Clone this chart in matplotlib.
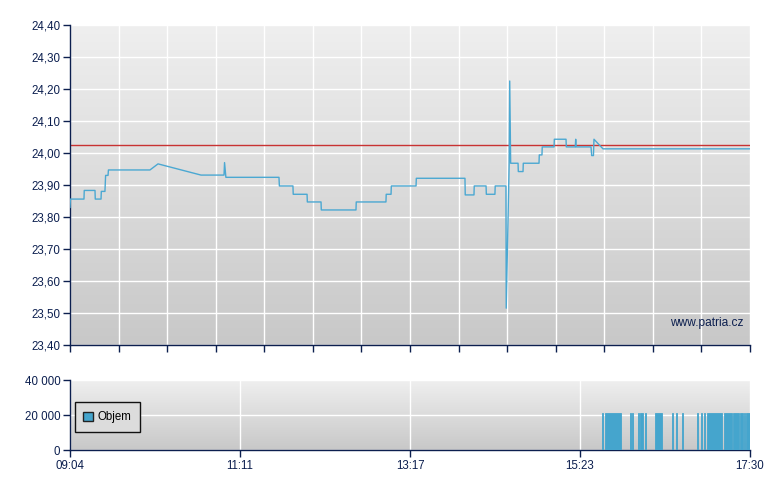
import numpy as np
import matplotlib
matplotlib.use('Agg')
import matplotlib.pyplot as plt
from matplotlib.colors import LinearSegmentedColormap
from matplotlib.patches import Patch

# ---------------------------------------------------------------------------
# Data (time = minutes after 09:04)
# ---------------------------------------------------------------------------
price_t = [0, 0.3, 10.4, 10.6, 18.6, 18.8, 23.1, 23.3, 26.0, 26.5, 28.3, 28.6,
           59.5, 65.5, 97.5, 114.6, 115.0, 116.0, 155.5, 155.8, 165.9, 166.1,
           176.4, 176.6, 186.8, 187.0, 212.8, 213.0, 235.1, 235.3, 238.9, 239.1,
           257.5, 257.7, 293.9, 294.1, 300.6, 300.8, 309.6, 309.8, 316.2, 316.4,
           324.4, 324.6, 326.8, 327.2, 327.9, 333.4, 333.6, 337.1, 337.3, 349.0,
           349.2, 351.2, 351.4, 360.2, 360.4, 369.1, 369.3, 376.0, 376.3, 376.6,
           387.7, 388.2, 389.5, 389.9, 396.6, 506]
price_v = [23.83, 23.856, 23.856, 23.883, 23.883, 23.856, 23.856, 23.88, 23.88, 23.93,
           23.93, 23.947, 23.947, 23.966, 23.931, 23.931, 23.97, 23.924, 23.924, 23.897,
           23.897, 23.871, 23.871, 23.847, 23.847, 23.822, 23.822, 23.847, 23.847, 23.871,
           23.871, 23.897, 23.897, 23.921, 23.921, 23.869, 23.869, 23.897, 23.897, 23.871,
           23.871, 23.897, 23.897, 23.515, 23.97, 24.225, 23.968, 23.968, 23.942, 23.942,
           23.968, 23.968, 23.994, 23.994, 24.019, 24.019, 24.043, 24.043, 24.019, 24.019,
           24.043, 24.019, 24.019, 23.992, 23.992, 24.043, 24.013, 24.013]
prev_close = 24.024

vol_start = [395.9, 398.1, 416.5, 418.4, 422.8, 424.2, 427.5, 435.1, 447.7, 451.2,
             455.7, 466.3, 469.3, 471.6, 473.8, 486.6, 493.3, 498.6, 501.5, 503.2]
vol_width = [0.8, 11.9, 0.8, 0.8, 0.8, 2.2, 0.9, 5.4, 0.8, 0.8,
             0.8, 1.2, 1.2, 0.8, 11.1, 6.0, 4.5, 2.2, 1.0, 2.8]
vol_value = [21000] * len(vol_start)

session_len = 506
time_labels = ['09:04', '11:11', '13:17', '15:23', '17:30']

NAVY = '#0c1f4f'
LINE = '#4ba8d2'
BAR = '#45a5cd'

bg_cmap = LinearSegmentedColormap.from_list('bg', ['#c8c8c8', '#efefef'])


def _style(ax):
    ax.imshow(np.linspace(0, 1, 256)[:, None], cmap=bg_cmap, origin='lower',
              extent=[0, 1, 0, 1], transform=ax.transAxes, aspect='auto', zorder=0)
    ax.set_axisbelow(True)
    ax.grid(True, color='white', lw=1)
    for side in ('top', 'right'):
        ax.spines[side].set_visible(False)
    for side in ('left', 'bottom'):
        ax.spines[side].set_color(NAVY)
        ax.spines[side].set_linewidth(1)
    ax.tick_params(colors=NAVY, length=5, width=1, labelsize=8.3, pad=2)
    ax.set_xlim(0, session_len)


plt.rcParams['font.family'] = ['Liberation Sans', 'DejaVu Sans']

fig = plt.figure(figsize=(7.8, 4.9), dpi=100)
ax1 = fig.add_axes([70 / 780, 1 - 345 / 490, 680 / 780, 320 / 490])
ax2 = fig.add_axes([70 / 780, 1 - 450 / 490, 680 / 780, 70 / 490])

# --- price panel -----------------------------------------------------------
_style(ax1)
ax1.set_ylim(23.40, 24.40)
yt = np.round(np.arange(23.40, 24.401, 0.10), 2)
ax1.set_yticks(yt)
ax1.set_yticklabels([f'{v:.2f}'.replace('.', ',') for v in yt])
ax1.set_xticks(np.linspace(0, session_len, 15))
ax1.set_xticklabels([])
ax1.axhline(prev_close, color='#c83232', lw=1, zorder=2)
ax1.plot(price_t, price_v, color=LINE, lw=1, zorder=3)
ax1.text(0.99, 0.068, 'www.patria.cz', transform=ax1.transAxes, ha='right',
         va='center', fontsize=8.6, color=NAVY)

# --- volume panel ----------------------------------------------------------
_style(ax2)
ax2.set_ylim(0, 40000)
ax2.set_yticks([0, 20000, 40000])
ax2.set_yticklabels(['0', '20 000', '40 000'])
ax2.set_xticks(np.linspace(0, session_len, 5))
ax2.set_xticklabels(time_labels)
ax2.bar(vol_start, vol_value, width=vol_width, align='edge', color=BAR,
        edgecolor=BAR, lw=0.6, zorder=3)
leg = ax2.legend(handles=[Patch(facecolor=BAR, edgecolor='#222222', label='Objem')],
                 loc='center left', bbox_to_anchor=(0.007, 0.47), fontsize=8.3,
                 frameon=True, fancybox=False, handlelength=0.8, handleheight=0.8,
                 handletextpad=0.4, borderpad=0.75, borderaxespad=0)
leg.get_frame().set_edgecolor('#111111')
leg.get_frame().set_facecolor('#dcdcdc')
leg.get_frame().set_alpha(1)
leg.get_frame().set_linewidth(1)

fig.savefig('out.png', dpi=100)
